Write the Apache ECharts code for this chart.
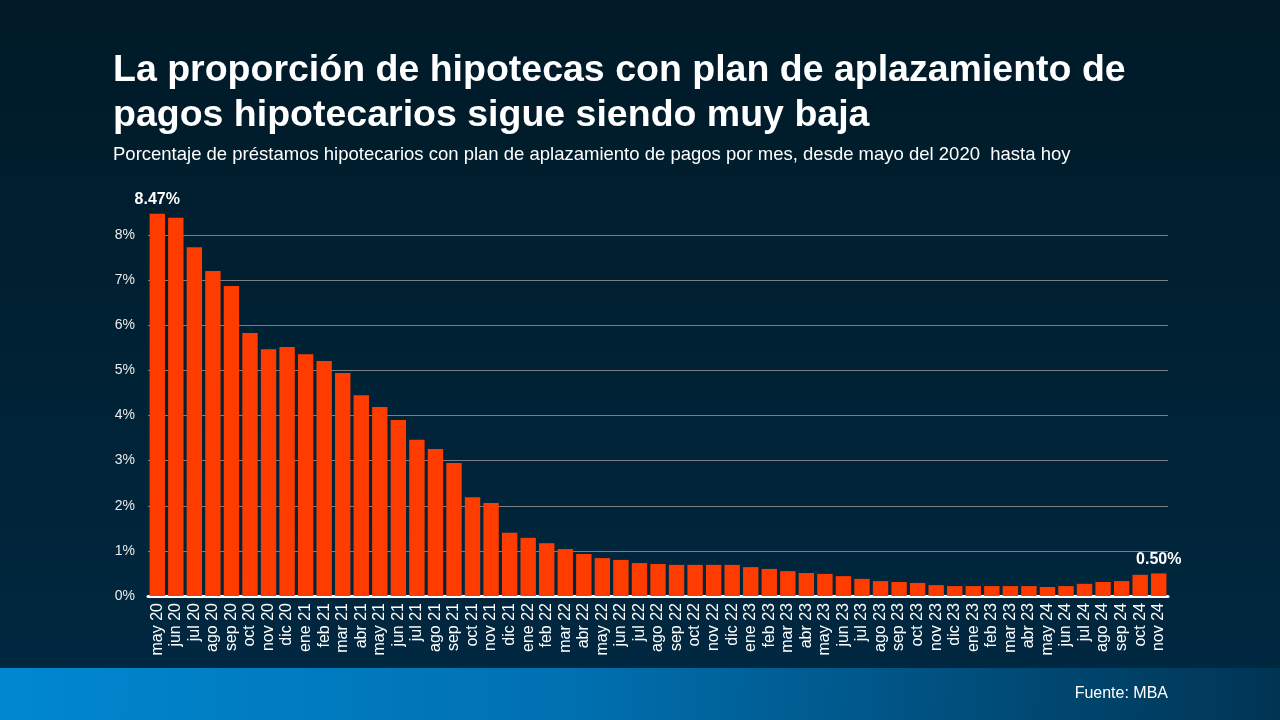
<!DOCTYPE html>
<html>
<head>
<meta charset="utf-8">
<script src="https://cdn.jsdelivr.net/npm/echarts@6/dist/echarts.min.js"></script>
<style>
html,body{margin:0;padding:0;width:1280px;height:720px;overflow:hidden;background:#001c2b;}
#c{width:1280px;height:720px;}
</style>
</head>
<body>
<div id="c"></div>
<script>
const categories = [
  'may 20','jun 20','jul 20','ago 20','sep 20','oct 20','nov 20','dic 20',
  'ene 21','feb 21','mar 21','abr 21','may 21','jun 21','jul 21','ago 21','sep 21','oct 21','nov 21','dic 21',
  'ene 22','feb 22','mar 22','abr 22','may 22','jun 22','jul 22','ago 22','sep 22','oct 22','nov 22','dic 22',
  'ene 23','feb 23','mar 23','abr 23','may 23','jun 23','jul 23','ago 23','sep 23','oct 23','nov 23','dic 23',
  'ene 23','feb 23','mar 23','abr 23','may 24','jun 24','jul 24','ago 24','sep 24','oct 24','nov 24'
];
const values = [
  8.47, 8.38, 7.73, 7.20, 6.87, 5.83, 5.47, 5.52,
  5.36, 5.21, 4.94, 4.45, 4.19, 3.90, 3.46, 3.26, 2.95, 2.19, 2.06, 1.40,
  1.29, 1.17, 1.04, 0.93, 0.84, 0.80, 0.73, 0.71, 0.69, 0.69, 0.69, 0.69,
  0.64, 0.60, 0.55, 0.51, 0.49, 0.44, 0.38, 0.33, 0.31, 0.29, 0.24, 0.22,
  0.22, 0.22, 0.22, 0.22, 0.20, 0.22, 0.27, 0.31, 0.33, 0.47, 0.50
];
const yTicks = [0, 1, 2, 3, 4, 5, 6, 7, 8];
const labeledIndexes = [0, values.length - 1];

const titleText = 'La proporción de hipotecas con plan de aplazamiento de\npagos hipotecarios sigue siendo muy baja';
const subtitleText = 'Porcentaje de préstamos hipotecarios con plan de aplazamiento de pagos por mes, desde mayo del 2020  hasta hoy';
const sourceText = 'Fuente: MBA';

const chart = echarts.init(document.getElementById('c'), null, {renderer: 'canvas'});
const FONT = '"Liberation Sans", Arial, sans-serif';

chart.setOption({
  backgroundColor: {
    type: 'linear', x: 0, y: 0, x2: 0, y2: 1,
    colorStops: [{offset: 0, color: '#001a27'}, {offset: 0.92, color: '#002840'}, {offset: 1, color: '#002840'}]
  },
  graphic: [
    {
      type: 'rect', left: 0, top: 668, z: -1,
      shape: {width: 1280, height: 52},
      style: {
        fill: {type: 'linear', x: 0, y: 0, x2: 1, y2: 0.3,
          colorStops: [{offset: 0, color: '#0088d1'}, {offset: 0.45, color: '#0070b0'}, {offset: 1, color: '#003453'}]}
      }
    },
    {
      type: 'text', right: 112, top: 686,
      style: {text: sourceText, fill: '#ffffff', font: '16px ' + FONT}
    }
  ],
  title: {
    text: titleText,
    subtext: subtitleText,
    left: 108,
    top: 43,
    itemGap: 7,
    textStyle: {color: '#ffffff', fontSize: 37.5, fontWeight: 'bold', fontFamily: FONT, lineHeight: 45},
    subtextStyle: {color: '#ffffff', fontSize: 18.5, fontFamily: FONT}
  },
  grid: {left: 148, right: 112, top: 235, bottom: 124, containLabel: false},
  xAxis: {
    type: 'category',
    data: categories,
    axisLine: {show: true, lineStyle: {color: '#ffffff', width: 3}},
    axisTick: {show: false},
    axisLabel: {color: '#ffffff', fontSize: 16, fontFamily: FONT, rotate: 90, interval: 0, margin: 7}
  },
  yAxis: {
    type: 'value',
    min: yTicks[0],
    max: yTicks[yTicks.length - 1],
    interval: 1,
    axisLine: {show: false},
    axisTick: {show: false},
    splitLine: {lineStyle: {color: '#7b7f82', width: 1}},
    axisLabel: {color: '#ececec', fontSize: 14, fontFamily: FONT, margin: 13, formatter: v => v + '%'}
  },
  series: [{
    type: 'bar',
    data: values.map((v, i) => ({
      value: v,
      label: labeledIndexes.includes(i) ? {show: true} : {show: false}
    })),
    clip: false,
    barCategoryGap: '17%',
    itemStyle: {color: '#ff3c00'},
    label: {
      position: 'top', distance: 6,
      color: '#ffffff', fontSize: 16, fontWeight: 'bold', fontFamily: FONT,
      formatter: p => p.value.toFixed(2) + '%'
    },
    animation: false
  }],
  animation: false
});
</script>
</body>
</html>
